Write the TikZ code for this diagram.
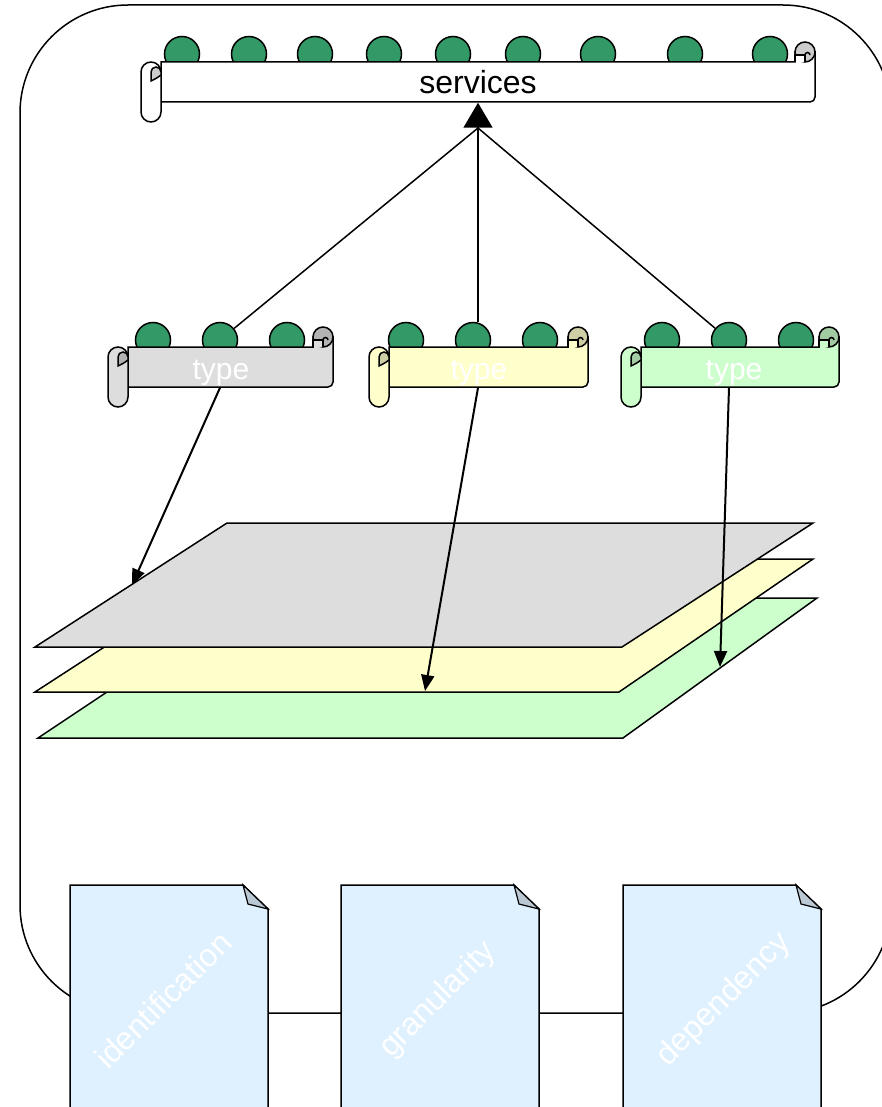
\documentclass[tikz,border=0pt]{standalone}
\usepackage{fontspec}
\setmainfont{Liberation Sans}
\usetikzlibrary{arrows.meta}

\definecolor{dotgreen}{HTML}{339966}
\definecolor{grayfill}{HTML}{DDDDDD}
\definecolor{graycurl}{HTML}{B3B3B3}
\definecolor{yellowfill}{HTML}{FFFFCC}
\definecolor{yellowcurl}{HTML}{CFCFA6}
\definecolor{greenfill}{HTML}{CCFFCC}
\definecolor{greencurl}{HTML}{A3CCA3}
\definecolor{whitecurl}{HTML}{CCCCCC}
\definecolor{docblue}{HTML}{DFF1FF}
\definecolor{foldblue}{HTML}{BAC8D4}

% #1 roll x, #2 right x, #3 top y, #4 bottom y, #5 fill, #6 curl
\newcommand{\scrollbanner}[6]{%
  \filldraw[fill=#5] (#1,#4) -- (#1,#3) -- (#2-20,#3) -- (#2-20,#3-10) -- (#2,#3-10)
    -- (#2,#4-5) arc[start angle=0,end angle=90,radius=5] -- cycle;
  \filldraw[fill=#6] (#2-10,#3-10) circle[radius=10];
  \filldraw[fill=#5] (#2-20,#3) -- (#2-20,#3-7) -- (#2-10,#3-7) -- (#2-10,#3);
  \draw (#2-10,#3-7) arc[start angle=180,end angle=360,radius=2.5];
  \filldraw[fill=#5] (#1-20,#3+10) arc[start angle=180,end angle=360,radius=10]
    -- (#1,#4+10) arc[start angle=0,end angle=180,radius=10] -- cycle;
  \filldraw[fill=#6] (#1-10,#3+19) -- (#1-10,#3+10) arc[start angle=180,end angle=360,radius=5]
    -- (#1,#3+13) .. controls (#1-4,#3+16) .. (#1-10,#3+19) -- cycle;
}

\begin{document}
\begin{tikzpicture}[x=1pt,y=-1pt,line width=1.5pt,
  dot/.style={circle,draw,fill=dotgreen,minimum size=35pt,inner sep=0pt},
  bannertext/.style={minimum height=40pt,inner sep=0pt,font=\fontsize{32}{38}\selectfont},
  typetext/.style={minimum height=40pt,inner sep=0pt,text height=24pt,text depth=0pt,
    text=white,font=\fontsize{30}{36}\selectfont},
  docbox/.style={rectangle,minimum width=198pt,minimum height=250pt,inner sep=0pt,outer sep=0pt},
  doctext/.style={rotate=45,text=white,font=\fontsize{32}{38}\selectfont},
  planearrow/.style={line width=2pt,-{Triangle[length=16pt,width=13pt]}}]
  \useasboundingbox (0,0) rectangle (882,1107);
  \clip (0,0) rectangle (882,1107);

  \draw[rounded corners=108pt] (20,5) rectangle (891,1013);

  \filldraw[fill=greenfill] (38,738) -- (623,738) -- (817,598) -- (248,598) -- cycle;
  \filldraw[fill=yellowfill] (35,692) -- (619,692) -- (813,559) -- (240,559) -- cycle;
  \filldraw[fill=grayfill] (35,647) -- (622,647) -- (813,523) -- (227,523) -- cycle;
  \coordinate (pA) at (132,585);
  \coordinate (pB) at (425,691);
  \coordinate (pC) at (720,667);

  \foreach \x [count=\i] in {182,249,315,384,453,523,598,685,770}
    \node[dot] (s\i) at (\x,54) {};
  \scrollbanner{161}{815}{62}{102}{white}{whitecurl}
  \node[bannertext] (svc) at (478,82) {services};

  \foreach \t/\x in {A/153,B/406,C/662}
    \foreach \k in {0,1,2}
      \node[dot] (\t\k) at ({\x+67*\k},340) {};
  \scrollbanner{128}{333}{347}{387}{grayfill}{graycurl}
  \scrollbanner{389}{588}{347}{387}{yellowfill}{yellowcurl}
  \scrollbanner{641}{839}{347}{387}{greenfill}{greencurl}
  \node[typetext] (tA) at (221,367) {type};
  \node[typetext] (tB) at (479,367) {type};
  \node[typetext] (tC) at (734,367) {type};

  \coordinate (hub) at (478,128);
  \draw (A1) -- (hub);
  \draw (hub |- B1.north) -- (hub);
  \draw (C1) -- (hub);
  \draw[-{Triangle[length=25pt,width=29pt]}] (hub) -- (svc.south);

  \draw[planearrow] ([xshift=-1pt]tA.south) -- (pA);
  \draw[planearrow] ([xshift=-1pt]tB.south) -- (pB);
  \draw[planearrow] ([xshift=-5pt]tC.south) -- (pC);

  \foreach \n/\x/\lx/\w in {I/169/163/identification,G/440/438/granularity,D/722/724/dependency}
  {
    \node[docbox] (d\n) at (\x,1010) {};
    \filldraw[fill=docblue] (d\n.south west) -- (d\n.north west) -- ([xshift=-25pt]d\n.north east)
      -- ([yshift=-24pt]d\n.north east) -- (d\n.south east) -- cycle;
    \filldraw[fill=foldblue,line width=1.2pt] ([xshift=-25pt]d\n.north east)
      -- ([xshift=-20pt,yshift=-19pt]d\n.north east) -- ([yshift=-24pt]d\n.north east) -- cycle;
    \node[doctext] (l\n) at (\lx,1000) {\w};
  }
\end{tikzpicture}
\end{document}
